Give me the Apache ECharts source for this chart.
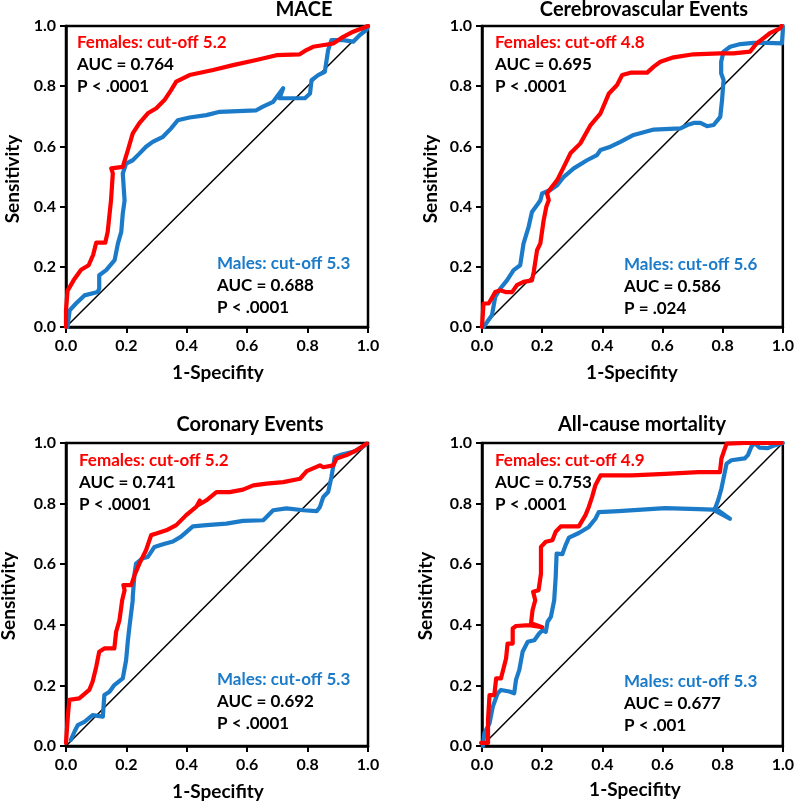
<!DOCTYPE html>
<html>
<head>
<meta charset="utf-8">
<script src="https://cdn.jsdelivr.net/npm/echarts@6/dist/echarts.min.js"></script>
<style>html,body{margin:0;padding:0;background:#fff}#c{width:797px;height:801px}</style>
</head>
<body>
<div id="c"></div>
<script>
// ---------- data ----------
var panelTitles = ['MACE', 'Cerebrovascular Events', 'Coronary Events', 'All-cause mortality'];
var femaleText = ['Females: cut-off 5.2', 'Females: cut-off 4.8', 'Females: cut-off 5.2', 'Females: cut-off 4.9'];
var femaleAUC = ['AUC = 0.764', 'AUC = 0.695', 'AUC = 0.741', 'AUC = 0.753'];
var femaleP = ['P < .0001', 'P < .0001', 'P < .0001', 'P < .0001'];
var maleText = ['Males: cut-off 5.3', 'Males: cut-off 5.6', 'Males: cut-off 5.3', 'Males: cut-off 5.3'];
var maleAUC = ['AUC = 0.688', 'AUC = 0.586', 'AUC = 0.692', 'AUC = 0.677'];
var maleP = ['P < .0001', 'P = .024', 'P < .0001', 'P < .001'];
var xName = '1-Specifity';
var yName = 'Sensitivity';
var diagonal = [[0, 0], [1, 1]];

var maceFemales = [[0,0],[0,0.055],[0.005,0.12],[0.025,0.155],[0.05,0.19],[0.075,0.205],[0.09,0.24],[0.1,0.28],[0.13,0.28],[0.138,0.316],[0.149,0.42],[0.155,0.51],[0.15,0.527],[0.188,0.532],[0.205,0.588],[0.221,0.643],[0.243,0.677],[0.271,0.71],[0.299,0.727],[0.326,0.754],[0.348,0.787],[0.365,0.815],[0.409,0.837],[0.487,0.854],[0.553,0.87],[0.63,0.887],[0.697,0.903],[0.774,0.906],[0.796,0.92],[0.818,0.931],[0.885,0.942],[0.918,0.964],[0.951,0.981],[1,1]];
var maceMales = [[0.005,0],[0.012,0.055],[0.033,0.078],[0.061,0.105],[0.105,0.116],[0.11,0.128],[0.11,0.172],[0.133,0.189],[0.161,0.222],[0.172,0.278],[0.183,0.316],[0.188,0.377],[0.194,0.42],[0.188,0.51],[0.199,0.543],[0.221,0.554],[0.243,0.576],[0.265,0.599],[0.287,0.615],[0.321,0.632],[0.348,0.66],[0.37,0.687],[0.409,0.696],[0.465,0.704],[0.509,0.715],[0.63,0.72],[0.652,0.732],[0.686,0.748],[0.719,0.793],[0.707,0.76],[0.791,0.76],[0.808,0.776],[0.813,0.82],[0.835,0.837],[0.857,0.848],[0.868,0.92],[0.879,0.953],[0.918,0.953],[0.951,0.948],[0.973,0.97],[0.995,0.987],[1,1]];

var cereFemales = [[0,0],[0.005,0.078],[0.022,0.078],[0.028,0.088],[0.044,0.116],[0.061,0.122],[0.078,0.116],[0.1,0.116],[0.116,0.139],[0.138,0.15],[0.166,0.155],[0.172,0.183],[0.183,0.255],[0.194,0.278],[0.205,0.355],[0.214,0.4],[0.222,0.421],[0.216,0.444],[0.25,0.488],[0.272,0.532],[0.294,0.577],[0.327,0.61],[0.361,0.671],[0.394,0.71],[0.422,0.776],[0.449,0.804],[0.466,0.837],[0.494,0.845],[0.549,0.845],[0.571,0.865],[0.593,0.881],[0.637,0.896],[0.703,0.906],[0.792,0.909],[0.836,0.909],[0.891,0.915],[0.913,0.942],[0.935,0.959],[0.957,0.976],[0.991,0.992],[0.995,1]];
var cereMales = [[0.005,0],[0.033,0.039],[0.044,0.1],[0.061,0.128],[0.083,0.155],[0.105,0.189],[0.127,0.205],[0.138,0.277],[0.155,0.333],[0.166,0.382],[0.183,0.405],[0.194,0.421],[0.2,0.444],[0.227,0.455],[0.25,0.471],[0.272,0.499],[0.305,0.527],[0.349,0.554],[0.382,0.571],[0.394,0.588],[0.427,0.599],[0.46,0.615],[0.504,0.638],[0.571,0.656],[0.66,0.66],[0.682,0.671],[0.704,0.678],[0.726,0.678],[0.748,0.667],[0.77,0.671],[0.792,0.698],[0.798,0.754],[0.803,0.82],[0.795,0.843],[0.795,0.881],[0.803,0.915],[0.825,0.931],[0.859,0.94],[0.903,0.944],[0.947,0.944],[0.997,0.942],[1,0.985],[1,1]];

var coroFemales = [[0,0.01],[0.006,0.097],[0.011,0.152],[0.044,0.157],[0.077,0.185],[0.088,0.212],[0.1,0.261],[0.11,0.311],[0.127,0.322],[0.16,0.322],[0.166,0.377],[0.177,0.415],[0.186,0.481],[0.194,0.514],[0.19,0.531],[0.216,0.531],[0.227,0.564],[0.243,0.602],[0.265,0.646],[0.282,0.696],[0.299,0.701],[0.332,0.712],[0.365,0.729],[0.398,0.762],[0.431,0.789],[0.443,0.81],[0.437,0.795],[0.465,0.811],[0.498,0.838],[0.542,0.838],[0.586,0.846],[0.62,0.86],[0.664,0.866],[0.719,0.871],[0.775,0.882],[0.797,0.907],[0.841,0.926],[0.852,0.92],[0.885,0.926],[0.896,0.949],[0.929,0.96],[0.962,0.976],[0.996,0.998]];
var coroMales = [[0.016,0.02],[0.028,0.047],[0.039,0.069],[0.061,0.08],[0.088,0.102],[0.122,0.097],[0.127,0.168],[0.144,0.179],[0.16,0.201],[0.188,0.223],[0.199,0.283],[0.205,0.349],[0.21,0.393],[0.221,0.481],[0.221,0.492],[0.227,0.569],[0.232,0.602],[0.254,0.62],[0.271,0.624],[0.293,0.657],[0.321,0.666],[0.354,0.675],[0.381,0.691],[0.42,0.725],[0.465,0.729],[0.531,0.734],[0.586,0.743],[0.653,0.745],[0.664,0.756],[0.686,0.778],[0.73,0.784],[0.786,0.778],[0.83,0.775],[0.841,0.789],[0.852,0.822],[0.868,0.838],[0.879,0.888],[0.89,0.954],[0.907,0.96],[0.951,0.971],[0.973,0.982],[0.995,0.996]];

var mortFemales = [[-0.003,0.01],[0.02,0.01],[0.02,0.086],[0.025,0.168],[0.041,0.168],[0.047,0.223],[0.063,0.223],[0.08,0.289],[0.085,0.338],[0.102,0.338],[0.102,0.388],[0.113,0.396],[0.157,0.399],[0.2,0.392],[0.163,0.405],[0.168,0.448],[0.177,0.481],[0.17,0.509],[0.188,0.514],[0.196,0.569],[0.196,0.657],[0.212,0.674],[0.234,0.679],[0.245,0.707],[0.262,0.725],[0.322,0.725],[0.344,0.762],[0.355,0.789],[0.366,0.822],[0.377,0.861],[0.394,0.893],[0.499,0.893],[0.609,0.898],[0.719,0.904],[0.791,0.904],[0.796,0.949],[0.813,0.998],[0.873,1.0],[0.995,1.0]];
var mortMales = [[0.003,0],[0.008,0.042],[0.025,0.075],[0.036,0.13],[0.052,0.174],[0.063,0.185],[0.091,0.18],[0.107,0.174],[0.113,0.218],[0.124,0.251],[0.135,0.311],[0.152,0.344],[0.174,0.349],[0.19,0.371],[0.201,0.382],[0.212,0.377],[0.218,0.41],[0.229,0.426],[0.24,0.481],[0.245,0.558],[0.248,0.635],[0.267,0.633],[0.278,0.663],[0.289,0.688],[0.322,0.703],[0.355,0.723],[0.377,0.75],[0.388,0.772],[0.454,0.775],[0.609,0.785],[0.719,0.782],[0.768,0.78],[0.824,0.75],[0.775,0.785],[0.785,0.811],[0.796,0.85],[0.813,0.932],[0.829,0.943],[0.873,0.949],[0.884,0.96],[0.895,0.987],[0.906,1.0],[0.922,0.985],[0.95,0.983],[0.972,0.992],[1,1]];

var femaleSeries = [maceFemales, cereFemales, coroFemales, mortFemales];
var maleSeries = [maceMales, cereMales, coroMales, mortMales];

// ---------- layout ----------
var RED = '#ff0000', BLUE = '#1b7bc9', BLACK = '#000000';
var FONT = 'Lato, "DejaVu Sans", sans-serif';
var grids = [
  {left: 66, top: 26, width: 302, height: 301},
  {left: 482, top: 26, width: 301, height: 301},
  {left: 66, top: 443, width: 302, height: 303},
  {left: 482, top: 443, width: 303, height: 303}
];
var titlePos = [[304, 10], [644, 10], [250, 425], [642, 425]];
var yNamePos = [[13, 179], [431, 179], [9, 596], [426, 596]];
var xNamePos = [[218, 373], [632, 373], [218, 792], [635, 790]];
var fTextPos = [[77, 43], [495, 43], [79, 461], [495, 461]];
var mTextPos = [[217, 264], [624, 265], [217, 680], [624, 682]];
var lineGap = 22;

var option = {
  animation: false,
  backgroundColor: '#fff',
  grid: [], xAxis: [], yAxis: [], series: [], graphic: []
};

function axisCommon(margin) {
  return {
    type: 'value', min: 0, max: 1, interval: 0.2,
    splitLine: {show: false},
    axisLine: {show: true, onZero: false, lineStyle: {color: BLACK, width: 2.5}},
    axisTick: {show: true, inside: false, length: 6, lineStyle: {color: BLACK, width: 2}},
    axisLabel: {color: BLACK, fontFamily: FONT, fontWeight: 'bold', fontSize: 16, margin: margin,
      formatter: function (v) { return v.toFixed(1); }}
  };
}

var boldF = function (size) { return 'bold ' + size + 'px ' + FONT; };

for (var i = 0; i < 4; i++) {
  var g = grids[i];
  option.grid.push({left: g.left, top: g.top, width: g.width, height: g.height,
    show: true, borderColor: BLACK, borderWidth: 2.5, backgroundColor: 'transparent'});
  var xa = axisCommon(11); xa.gridIndex = i;
  var ya = axisCommon(10); ya.gridIndex = i;
  option.xAxis.push(xa);
  option.yAxis.push(ya);
  option.series.push({type: 'line', xAxisIndex: i, yAxisIndex: i, data: diagonal, symbol: 'none',
    lineStyle: {color: BLACK, width: 1.5}, silent: true, z: 2});
  option.series.push({type: 'line', xAxisIndex: i, yAxisIndex: i, data: maleSeries[i], symbol: 'none',
    lineStyle: {color: BLUE, width: 4.2, join: 'round', cap: 'round'}, z: 3});
  option.series.push({type: 'line', xAxisIndex: i, yAxisIndex: i, data: femaleSeries[i], symbol: 'none',
    lineStyle: {color: RED, width: 4.2, join: 'round', cap: 'round'}, z: 4});

  option.graphic.push({type: 'text', x: titlePos[i][0], y: titlePos[i][1],
    style: {text: panelTitles[i], font: boldF(20), fill: BLACK, textAlign: 'center', textVerticalAlign: 'middle'}});
  option.graphic.push({type: 'text', x: yNamePos[i][0], y: yNamePos[i][1], rotation: Math.PI / 2,
    style: {text: yName, font: boldF(19), fill: BLACK, textAlign: 'center', textVerticalAlign: 'middle'}});
  option.graphic.push({type: 'text', x: xNamePos[i][0], y: xNamePos[i][1],
    style: {text: xName, font: boldF(19), fill: BLACK, textAlign: 'center', textVerticalAlign: 'middle'}});
  var fl = [[femaleText[i], RED], [femaleAUC[i], BLACK], [femaleP[i], BLACK]];
  var ml = [[maleText[i], BLUE], [maleAUC[i], BLACK], [maleP[i], BLACK]];
  for (var k = 0; k < 3; k++) {
    option.graphic.push({type: 'text', x: fTextPos[i][0], y: fTextPos[i][1] + k * lineGap,
      style: {text: fl[k][0], font: boldF(17), fill: fl[k][1], textAlign: 'left', textVerticalAlign: 'middle'}});
    option.graphic.push({type: 'text', x: mTextPos[i][0], y: mTextPos[i][1] + k * lineGap,
      style: {text: ml[k][0], font: boldF(17), fill: ml[k][1], textAlign: 'left', textVerticalAlign: 'middle'}});
  }
}

var chart = echarts.init(document.getElementById('c'), null, {renderer: 'canvas'});
chart.setOption(option);
</script>
</body>
</html>
